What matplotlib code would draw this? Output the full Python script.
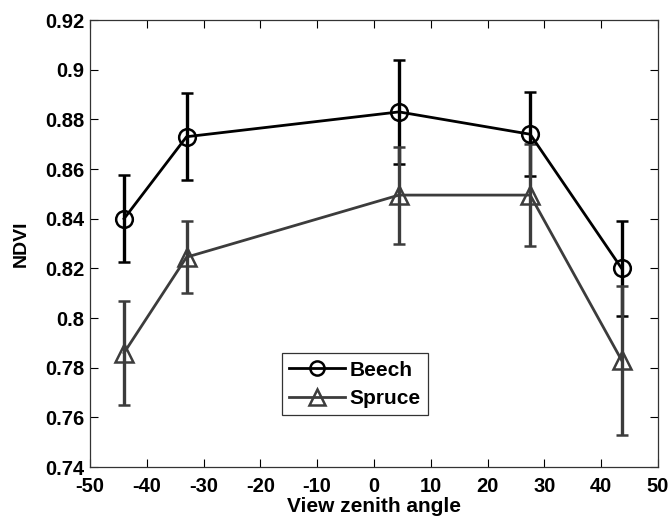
import numpy as np
import matplotlib.pyplot as plt

# view zenith angles and NDVI values
angle = [-44.0, -33.0, 4.4, 27.5, 43.6]
beech = [0.840, 0.873, 0.883, 0.874, 0.820]
beech_err = [0.0175, 0.0175, 0.021, 0.017, 0.019]
spruce = [0.786, 0.8245, 0.8495, 0.8495, 0.783]
spruce_err = [0.021, 0.0145, 0.0195, 0.0205, 0.030]

plt.rcParams['font.family'] = ['Liberation Sans', 'DejaVu Sans']
plt.rcParams['font.weight'] = 'bold'
plt.rcParams['axes.unicode_minus'] = False

fig = plt.figure(figsize=(6.69, 5.21), dpi=100)
ax = fig.add_axes([0.1345, 0.1036, 0.849, 0.858])

ax.errorbar(angle, beech, yerr=beech_err, color='#000000', lw=2.0,
            elinewidth=2.4, capsize=4, capthick=2.4, marker='o', ms=12,
            mfc='none', mec='#000000', mew=1.8, label='Beech')
ax.errorbar(angle, spruce, yerr=spruce_err, color='#3c3c3c', lw=2.0,
            elinewidth=2.4, capsize=4, capthick=2.4, marker='^', ms=13,
            mfc='none', mec='#3c3c3c', mew=1.8, label='Spruce')

ax.set_xlim(-50, 50)
ax.set_ylim(0.74, 0.92)
ax.set_xticks(np.arange(-50, 51, 10))
ax.set_yticks(np.arange(0.74, 0.921, 0.02))
ax.set_yticklabels(['0.74', '0.76', '0.78', '0.8', '0.82', '0.84',
                    '0.86', '0.88', '0.9', '0.92'])
ax.tick_params(direction='in', length=6, width=0.8, top=True, right=True,
               labelsize=14.5, colors='#000000')
ax.tick_params(axis='x', pad=7)
ax.tick_params(axis='y', pad=4)
for s in ax.spines.values():
    s.set_linewidth(0.9)
    s.set_color('#333333')

ax.set_xlabel('View zenith angle', fontsize=15, fontweight='bold', labelpad=1)
ax.set_ylabel('NDVI', fontsize=14, fontweight='bold', labelpad=11)

handles, labels = ax.get_legend_handles_labels()
handles = [h[0] for h in handles]
leg = ax.legend(handles, labels, loc='lower left', bbox_to_anchor=(0.338, 0.116),
                borderaxespad=0, fontsize=15, fancybox=False, framealpha=1,
                edgecolor='#333333', handlelength=2.7, handletextpad=0.2,
                borderpad=0.35, labelspacing=0.45, markerscale=0.85)
leg.get_frame().set_linewidth(0.9)

fig.savefig('out.png', dpi=100)
